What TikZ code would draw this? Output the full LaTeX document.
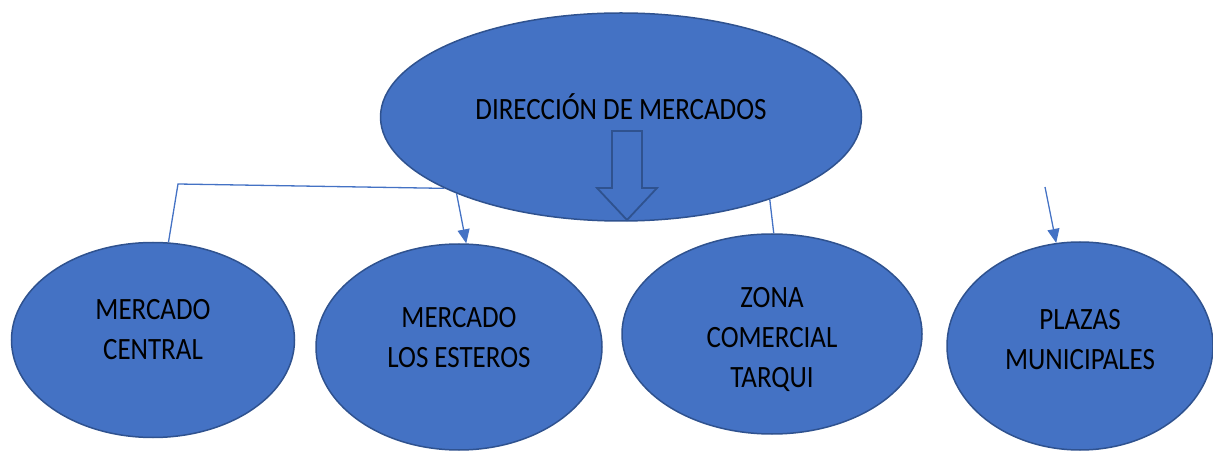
\documentclass[tikz,border=0pt]{standalone}
\usepackage{fontspec}
\setmainfont{Carlito}[FakeStretch=0.87]
\usetikzlibrary{shapes.geometric,arrows.meta,backgrounds}
\definecolor{unitfill}{HTML}{4472C4}
\definecolor{unitedge}{HTML}{2F528F}
\tikzset{
  unit/.style={ellipse, draw=unitedge, line width=1.5pt, fill=unitfill, inner sep=0pt},
  unitname/.style={align=center, text=black, font=\fontsize{31}{40}\selectfont},
  link/.style={draw=unitfill, line width=1.3pt},
  linkarrow/.style={-{Triangle[length=14pt,width=12pt]}},
  blockarrow/.style={draw=unitedge, line width=1.8pt, line join=miter}
}
\begin{document}
\begin{tikzpicture}[x=1pt,y=-1pt]
    \useasboundingbox (0,0) rectangle (1213,454);

    \node[unit, minimum width=481pt, minimum height=208pt,
        label={[unitname,yshift=10pt]center:DIRECCIÓN DE MERCADOS}] (dir) at (621,117) {};

    \node[unit, minimum width=283pt, minimum height=195pt,
        label={[unitname,yshift=10pt]center:MERCADO\\CENTRAL}] (central) at (153,340) {};
    \node[unit, minimum width=286pt, minimum height=206pt,
        label={[unitname,yshift=9pt]center:MERCADO\\LOS ESTEROS}] (esteros) at (459,347) {};
    \node[unit, minimum width=300pt, minimum height=200pt,
        label={[unitname,yshift=-5pt]center:ZONA\\COMERCIAL\\TARQUI}] (tarqui) at (772,334) {};
    \node[unit, minimum width=266pt, minimum height=208pt,
        label={[unitname,yshift=6pt]center:PLAZAS\\MUNICIPALES}] (plazas) at (1080,346) {};

    \draw[blockarrow, shift={(dir.center)}] (-9,14) -- (21,14) -- (21,71) -- (36,71)
        -- (6,103) -- (-24,71) -- (-9,71) -- cycle;

    \begin{scope}[on background layer]
        \coordinate (corner) at (178,184);
        \coordinate (free) at (1045,187);
        \draw[link] (dir.202) -- (corner) -- (central.81);
        \draw[link, linkarrow] (dir.205) -- (esteros.86);
        \draw[link] (dir.331) -- (tarqui.89);
        \draw[link, linkarrow] (free) -- (plazas.103);
    \end{scope}

\end{tikzpicture}
\end{document}
